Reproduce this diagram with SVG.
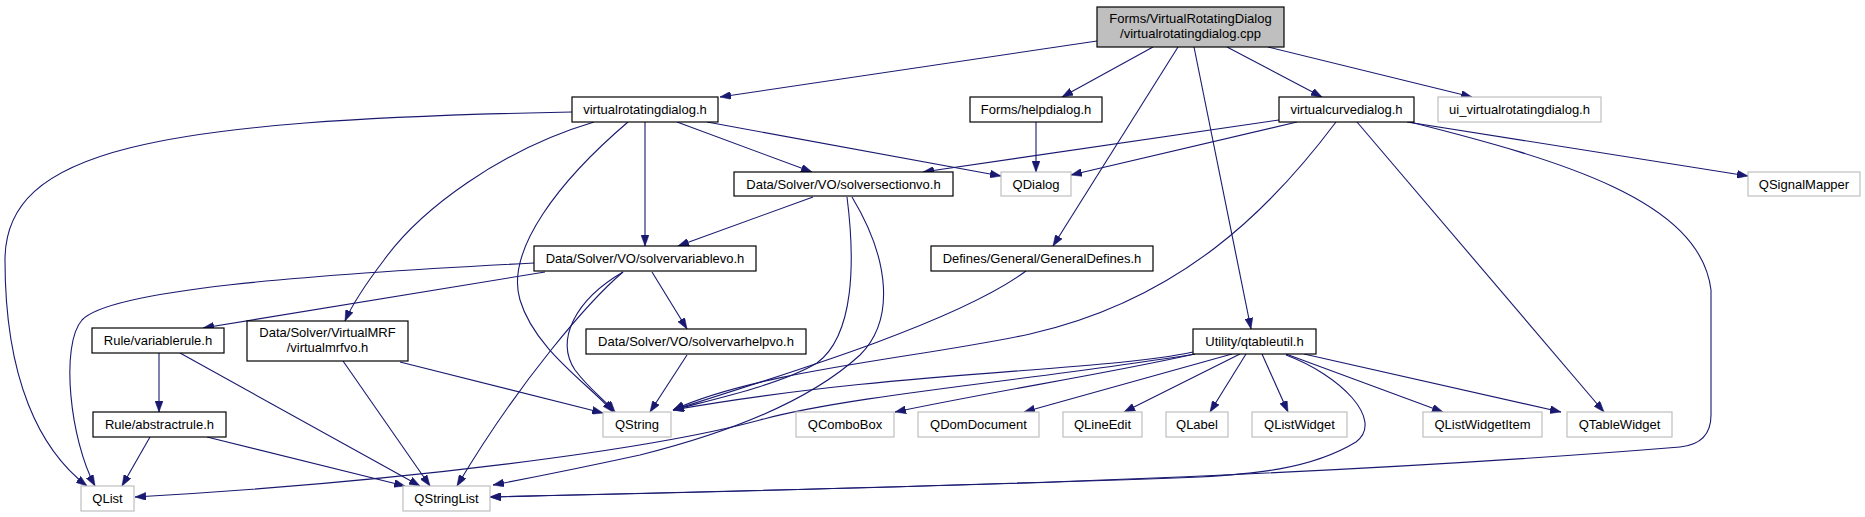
<svg xmlns="http://www.w3.org/2000/svg" width="1865" height="517" viewBox="0 0 1865 517">
<style>
.n rect{fill:#ffffff;stroke:#000000;stroke-width:1.2}
.g rect{fill:#ffffff;stroke:#bfbfbf;stroke-width:1.2}
.m rect{fill:#bfbfbf;stroke:#000000;stroke-width:1.2}
text{font-family:"Liberation Sans",Arial,sans-serif;font-size:13px;fill:#000000;text-anchor:middle}
#edges path{fill:none;stroke:#191970;stroke-width:1.1;marker-end:url(#ah)}
</style>
<defs>
<marker id="ah" markerUnits="userSpaceOnUse" markerWidth="11" markerHeight="8" refX="11" refY="4" orient="auto">
<path d="M0,0 L11,4 L0,8 z" fill="#191970" stroke="#191970" stroke-width="0.5"/>
</marker>
</defs>
<rect width="1865" height="517" fill="#ffffff"/>
<g id="edges">
<path d="M1097,41 L720,97"/>
<path d="M1153,47 L1062,97"/>
<path d="M1178,47 L1053,246"/>
<path d="M1194,47 L1251,329"/>
<path d="M1227,47 L1322,97"/>
<path d="M1268,47 L1472,97"/>
<path d="M572,112 C150,120 5,150 5,260 C5,380 40,450 87,486"/>
<path d="M645,122 L645,246"/>
<path d="M628,122 C560,180 505,250 520,300 C535,350 590,385 613,412"/>
<path d="M594,122 C500,150 420,210 384,260 C365,285 352,305 345,321"/>
<path d="M677,122 L812,172"/>
<path d="M707,122 L1001,176"/>
<path d="M1036,122 L1036,172"/>
<path d="M1279,120 L923,172"/>
<path d="M1297,122 L1071,175"/>
<path d="M1336,122 C1270,210 1180,300 1030,334 C920,358 760,370 673,410"/>
<path d="M1357,122 L1604,412"/>
<path d="M1407,122 L1748,176"/>
<path d="M1410,122 C1560,160 1700,200 1711,290 L1711,415 C1711,435 1700,445 1680,447 C1300,478 900,488 490,497"/>
<path d="M813,197 L678,246"/>
<path d="M847,197 C855,260 855,335 817,363 C780,385 710,400 673,410"/>
<path d="M852,197 C890,260 895,320 860,355 C800,410 700,440 640,455 C580,468 530,478 493,485"/>
<path d="M534,263 C300,275 110,290 82,320 C60,345 70,440 95,486"/>
<path d="M545,272 L203,328"/>
<path d="M623,272 C575,300 555,340 575,370 C590,390 605,400 615,412"/>
<path d="M623,272 C590,300 520,380 457,486"/>
<path d="M652,272 L687,329"/>
<path d="M1026,271 C960,320 800,370 673,410"/>
<path d="M159,353 L159,412"/>
<path d="M180,353 L420,486"/>
<path d="M343,361 L430,486"/>
<path d="M400,362 L603,413"/>
<path d="M687,355 L650,412"/>
<path d="M150,437 L122,486"/>
<path d="M207,437 L405,486"/>
<path d="M1193,352 C1100,372 900,370 673,410"/>
<path d="M1195,354 C1100,375 1000,390 895,412"/>
<path d="M1232,354 L1024,412"/>
<path d="M1240,354 L1124,412"/>
<path d="M1246,354 L1210,412"/>
<path d="M1262,354 L1288,412"/>
<path d="M1286,354 L1443,412"/>
<path d="M1304,354 L1561,412"/>
<path d="M1286,355 C1340,375 1385,420 1356,442 C1310,470 1250,474 1200,477 C1000,485 700,492 490,497"/>
<path d="M1195,354 C1050,378 850,395 760,420 C650,450 400,482 135,497"/>
</g>
<g id="main" class="m"><rect x="1097" y="7" width="187" height="40"/><text x="1190.5" y="23">Forms/VirtualRotatingDialog</text><text x="1190.5" y="37.5">/virtualrotatingdialog.cpp</text></g>
<g id="virtualrotatingdialog_h" class="n"><rect x="572" y="97" width="146" height="25"/><text x="645" y="114">virtualrotatingdialog.h</text></g>
<g id="helpdialog_h" class="n"><rect x="970" y="97" width="132" height="25"/><text x="1036" y="114">Forms/helpdialog.h</text></g>
<g id="virtualcurvedialog_h" class="n"><rect x="1279" y="97" width="135" height="25"/><text x="1346.5" y="114">virtualcurvedialog.h</text></g>
<g id="ui_virtualrotatingdialog_h" class="g"><rect x="1438" y="97" width="163" height="25"/><text x="1519.5" y="114">ui_virtualrotatingdialog.h</text></g>
<g id="solversectionvo_h" class="n"><rect x="734" y="172" width="219" height="24"/><text x="843.5" y="188.5">Data/Solver/VO/solversectionvo.h</text></g>
<g id="QDialog" class="g"><rect x="1001" y="172" width="70" height="24"/><text x="1036" y="188.5">QDialog</text></g>
<g id="QSignalMapper" class="g"><rect x="1748" y="172" width="112" height="24"/><text x="1804" y="188.5">QSignalMapper</text></g>
<g id="solvervariablevo_h" class="n"><rect x="534" y="246" width="222" height="25"/><text x="645" y="263">Data/Solver/VO/solvervariablevo.h</text></g>
<g id="GeneralDefines_h" class="n"><rect x="931" y="246" width="222" height="25"/><text x="1042" y="263">Defines/General/GeneralDefines.h</text></g>
<g id="variablerule_h" class="n"><rect x="92" y="328" width="132" height="25"/><text x="158" y="345">Rule/variablerule.h</text></g>
<g id="virtualmrfvo_h" class="n"><rect x="247" y="321" width="161" height="40"/><text x="327.5" y="337">Data/Solver/VirtualMRF</text><text x="327.5" y="351.5">/virtualmrfvo.h</text></g>
<g id="solvervarhelpvo_h" class="n"><rect x="586" y="329" width="220" height="25"/><text x="696" y="346">Data/Solver/VO/solvervarhelpvo.h</text></g>
<g id="qtableutil_h" class="n"><rect x="1193" y="329" width="123" height="25"/><text x="1254.5" y="346">Utility/qtableutil.h</text></g>
<g id="abstractrule_h" class="n"><rect x="93" y="412" width="133" height="25"/><text x="159.5" y="429">Rule/abstractrule.h</text></g>
<g id="QString" class="g"><rect x="603" y="412" width="68" height="25"/><text x="637" y="429">QString</text></g>
<g id="QComboBox" class="g"><rect x="796" y="412" width="98" height="25"/><text x="845" y="429">QComboBox</text></g>
<g id="QDomDocument" class="g"><rect x="918" y="412" width="121" height="25"/><text x="978.5" y="429">QDomDocument</text></g>
<g id="QLineEdit" class="g"><rect x="1063" y="412" width="79" height="25"/><text x="1102.5" y="429">QLineEdit</text></g>
<g id="QLabel" class="g"><rect x="1166" y="412" width="62" height="25"/><text x="1197" y="429">QLabel</text></g>
<g id="QListWidget" class="g"><rect x="1252" y="412" width="95" height="25"/><text x="1299.5" y="429">QListWidget</text></g>
<g id="QListWidgetItem" class="g"><rect x="1423" y="412" width="119" height="25"/><text x="1482.5" y="429">QListWidgetItem</text></g>
<g id="QTableWidget" class="g"><rect x="1567" y="412" width="105" height="25"/><text x="1619.5" y="429">QTableWidget</text></g>
<g id="QList" class="g"><rect x="81" y="486" width="53" height="25"/><text x="107.5" y="503">QList</text></g>
<g id="QStringList" class="g"><rect x="403" y="486" width="87" height="25"/><text x="446.5" y="503">QStringList</text></g>
</svg>
